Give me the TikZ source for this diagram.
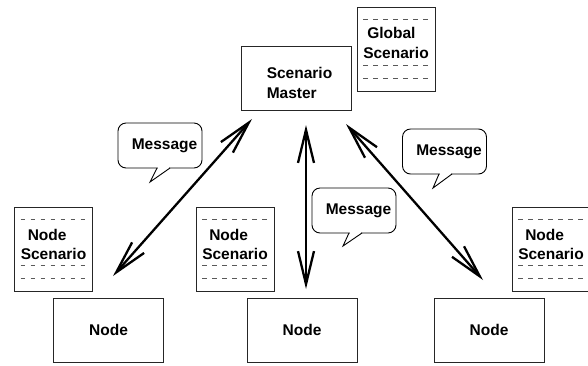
\documentclass[tikz,border=0pt]{standalone}
\usepackage{fontspec}
\setmainfont{Liberation Sans}
\usetikzlibrary{arrows.meta,calc}
\begin{document}
\begin{tikzpicture}[x=1pt,y=-1pt,
  every node/.style={font=\bfseries\fontsize{15.5}{19.5}\selectfont},
  box/.style={draw=black!85,line width=1pt,minimum width=110pt,minimum height=64pt,inner sep=0pt,outer sep=0pt},
  scen/.style={draw=black!85,line width=1pt,minimum width=78pt,minimum height=84pt,inner sep=0pt,outer sep=0pt},
  txt/.style={align=left,inner sep=0pt},
  bubble/.style={draw=black,line width=0.9pt,rounded corners=8pt,minimum width=84pt,minimum height=45pt,inner sep=0pt,outer sep=0pt},
  dline/.style={draw=black!65,line width=0.8pt,dash pattern=on 4.5pt off 5.5pt},
  tail/.style={draw=black,line width=0.9pt,line join=miter},
  arr/.style={line width=2.3pt,{Straight Barb[length=33pt,width=16pt]}-{Straight Barb[length=33pt,width=16pt]}}
]
\useasboundingbox (0,0) rectangle (588,365);
\clip (0,0) rectangle (588,365);

% Scenario master
\node[box] (master) at (296,78) {};
\node[txt] (mastertext) at (299.5,83) {Scenario\\Master};

% scenario documents
\node[scen] (global) at (396,49) {};
\node[scen] (ns1) at (53.5,249) {};
\node[scen] (ns2) at (235,249) {};
\node[scen] (ns3) at (551,249) {};
\foreach \b in {global,ns1,ns2,ns3}{
  \foreach \d in {12.5,58,71}{
    \draw[dline] ($(\b.north west)+(6,\d)$) -- ($(\b.north east)+(-6,\d)$);
  }
}
\node[txt] (globaltext) at (396,43) {\hspace*{4pt}Global\\Scenario};
\node[txt] (ns1text) at (53.5,244.5) {\hspace*{7pt}Node\\Scenario};
\node[txt] (ns2text) at (235,244.5) {\hspace*{7pt}Node\\Scenario};
\node[txt] (ns3text) at (551,244.5) {\hspace*{7pt}Node\\Scenario};

% nodes
\node[box] (n1) at (108.5,330) {Node};
\node[box] (n2) at (302,330) {Node};
\node[box] (n3) at (489,330) {Node};

% messages
\node[bubble] (m1) at (160,145.5) {\hspace*{9pt}Message};
\node[bubble] (m2) at (354,210.5) {\hspace*{9pt}Message};
\node[bubble] (m3) at (444.5,151.5) {\hspace*{9pt}Message};

\coordinate (t1a) at ($(m1.south)+(-3,0)$);
\coordinate (t1b) at ($(m1.south)+(10,0)$);
\coordinate (t1c) at ($(m1.south)+(-10,14)$);
\coordinate (t2a) at ($(m2.south)+(-5,0)$);
\coordinate (t2b) at ($(m2.south)+(8,0)$);
\coordinate (t2c) at ($(m2.south)+(-11,13)$);
\coordinate (t3a) at ($(m3.south)+(-5.5,0)$);
\coordinate (t3b) at ($(m3.south)+(7.5,0)$);
\coordinate (t3c) at ($(m3.south)+(-11.5,14)$);
\foreach \t in {1,2,3}{
  \fill[white] ($(t\t a)+(0.7,-1.2)$) rectangle ($(t\t b)+(-0.7,1.2)$);
  \draw[tail] (t\t a) -- (t\t c) -- (t\t b);
}

% arrows
\coordinate (a1s) at (252,119);
\coordinate (a1e) at (113,276);
\coordinate (a2s) at (306,125);
\coordinate (a2e) at (306,289);
\coordinate (a3s) at (346,124);
\coordinate (a3e) at (483,280);
\draw[arr] (a1s) -- (a1e);
\draw[arr] (a2s) -- (a2e);
\draw[arr] (a3s) -- (a3e);
\end{tikzpicture}
\end{document}
